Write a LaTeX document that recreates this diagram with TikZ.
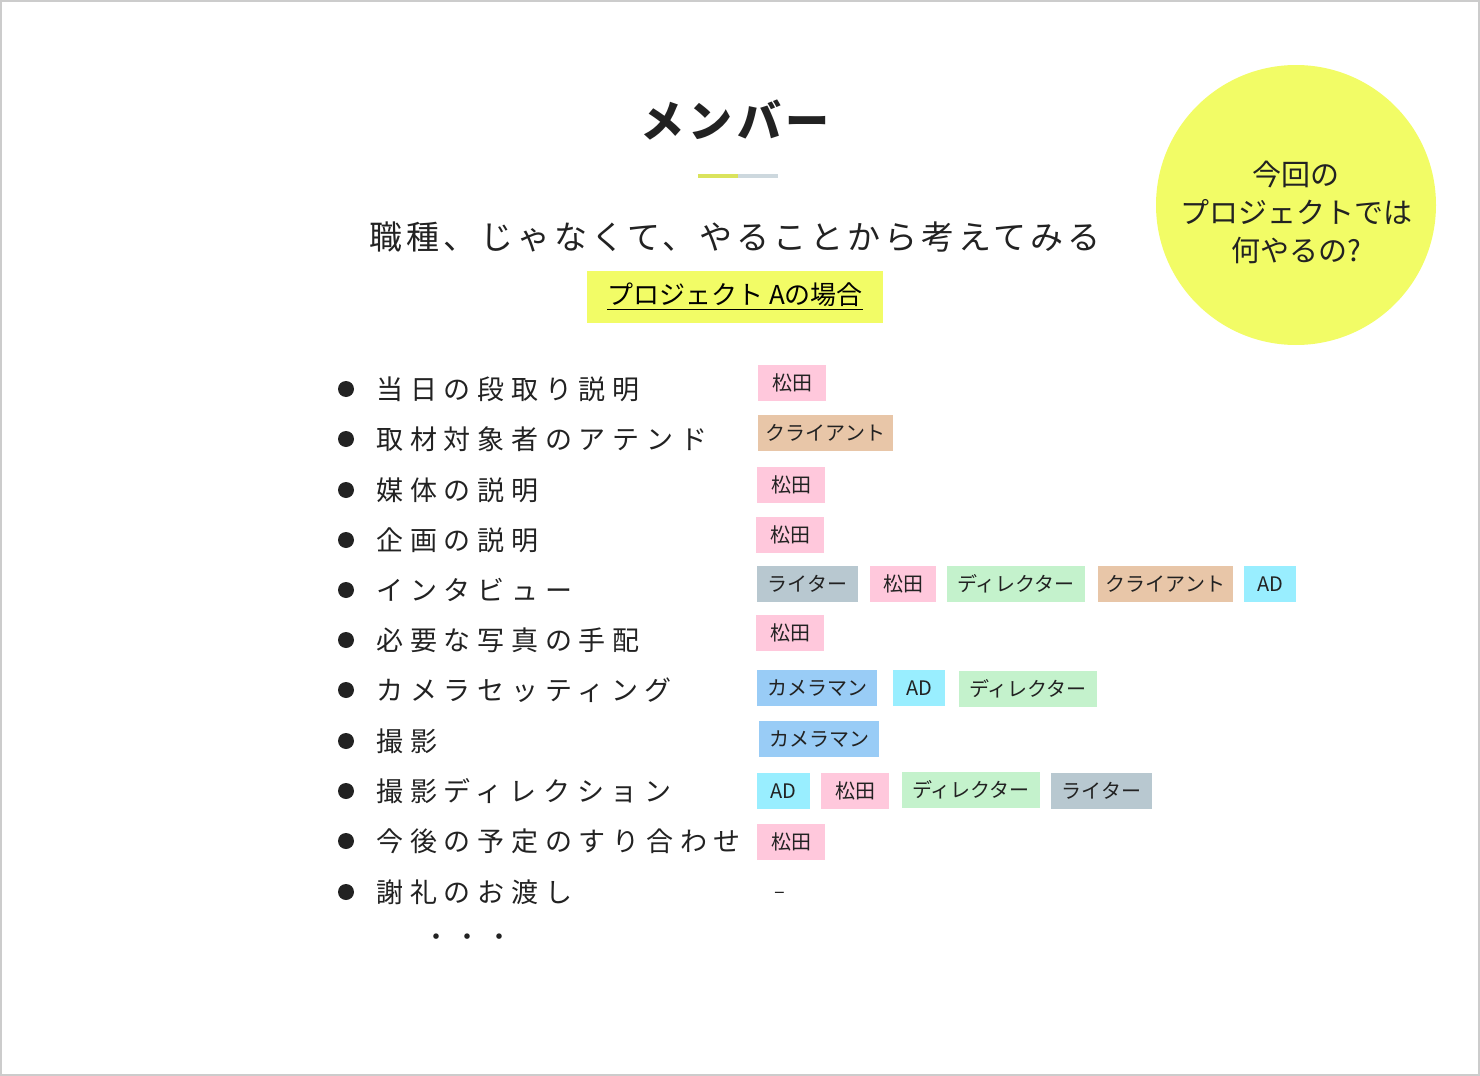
\documentclass[tikz,border=0pt]{standalone}
\usepackage{fontspec}
\setmainfont{Noto Sans CJK JP}
\definecolor{ylw}{HTML}{F2FC66}
\definecolor{tpink}{HTML}{FFC8DC}
\definecolor{ttan}{HTML}{E8C6A8}
\definecolor{tgray}{HTML}{B8C8D0}
\definecolor{tgreen}{HTML}{C4F2CC}
\definecolor{tcyan}{HTML}{99EEFF}
\definecolor{tblue}{HTML}{99CCF6}
\definecolor{ink}{HTML}{222222}
\newcommand{\tg}[6]{\fill[#5] (#2,#4-18) rectangle (#3,#4+18); \node[tagtext] (#1) at ({(#2+#3)/2},#4) {#6};}
\newcommand{\itm}[3]{\node[bul] (b#1) at (346,#2) {}; \node[itemtext] (i#1) at (376,#2) {#3};}
\begin{document}
\begin{tikzpicture}[x=0.5pt,y=-0.5pt,
  tagtext/.style={font=\fontsize{10}{12}\selectfont,text=ink,inner sep=0},
  itemtext/.style={anchor=west,font=\fontsize{13.5}{16}\selectfont\addfontfeature{LetterSpace=25},text=ink,inner sep=0},
  bul/.style={circle,fill=ink,minimum size=8pt,inner sep=0}]
\path[use as bounding box] (0,0) rectangle (1480,1076);
\draw[gray!40,line width=1pt] (1,1) rectangle (1479,1075);
\node[font=\fontsize{22}{26}\selectfont\bfseries\addfontfeature{LetterSpace=10},text=ink] (title) at (735,120) {メンバー};
\draw[ylw!90!black,line width=2pt] (698,176) -- (738,176);
\draw[tgray!70,line width=2pt] (738,176) -- (778,176);
\node[font=\fontsize{16.5}{20}\selectfont\addfontfeature{LetterSpace=12},text=ink] (sub) at (735,237) {職種、じゃなくて、やることから考えてみる};
\fill[ylw] (587,271) rectangle (883,323);
\node[font=\fontsize{13}{16}\selectfont,text=black] (case) at (735,297) {\underline{プロジェクト Aの場合}};
\fill[ylw] (1296,205) circle (140);
\node[align=center,font=\fontsize{14.5}{19}\selectfont,text=ink] (q) at (1296,212) {今回の\\プロジェクトでは\\何やるの?};
\itm{1}{389}{当日の段取り説明}
\itm{2}{439}{取材対象者のアテンド}
\itm{3}{490}{媒体の説明}
\itm{4}{540}{企画の説明}
\itm{5}{590}{インタビュー}
\itm{6}{640}{必要な写真の手配}
\itm{7}{690}{カメラセッティング}
\itm{8}{741}{撮影}
\itm{9}{791}{撮影ディレクション}
\itm{10}{841}{今後の予定のすり合わせ}
\itm{11}{892}{謝礼のお渡し}
\node[font=\fontsize{13}{16}\selectfont\addfontfeature{LetterSpace=20},text=ink] (dots) at (468,940) {・・・};
\tg{a1}{758}{826}{383}{tpink}{松田}
\tg{a2}{758}{893}{433}{ttan}{クライアント}
\tg{a3}{757}{825}{485}{tpink}{松田}
\tg{a4}{756}{824}{535}{tpink}{松田}
\tg{a5}{757}{858}{584}{tgray}{ライター}
\tg{a6}{870}{936}{584}{tpink}{松田}
\tg{a7}{947}{1085}{584}{tgreen}{ディレクター}
\tg{a8}{1098}{1233}{584}{ttan}{クライアント}
\tg{a9}{1244}{1296}{584}{tcyan}{AD}
\tg{a10}{756}{824}{633}{tpink}{松田}
\tg{a11}{757}{877}{688}{tblue}{カメラマン}
\tg{a12}{893}{945}{688}{tcyan}{AD}
\tg{a13}{959}{1097}{689}{tgreen}{ディレクター}
\tg{a14}{759}{879}{739}{tblue}{カメラマン}
\tg{a15}{757}{810}{791}{tcyan}{AD}
\tg{a16}{821}{889}{791}{tpink}{松田}
\tg{a17}{902}{1040}{790}{tgreen}{ディレクター}
\tg{a18}{1051}{1152}{791}{tgray}{ライター}
\tg{a19}{757}{825}{842}{tpink}{松田}
\node[tagtext] (a20) at (780,895) {–};
\end{tikzpicture}
\end{document}
